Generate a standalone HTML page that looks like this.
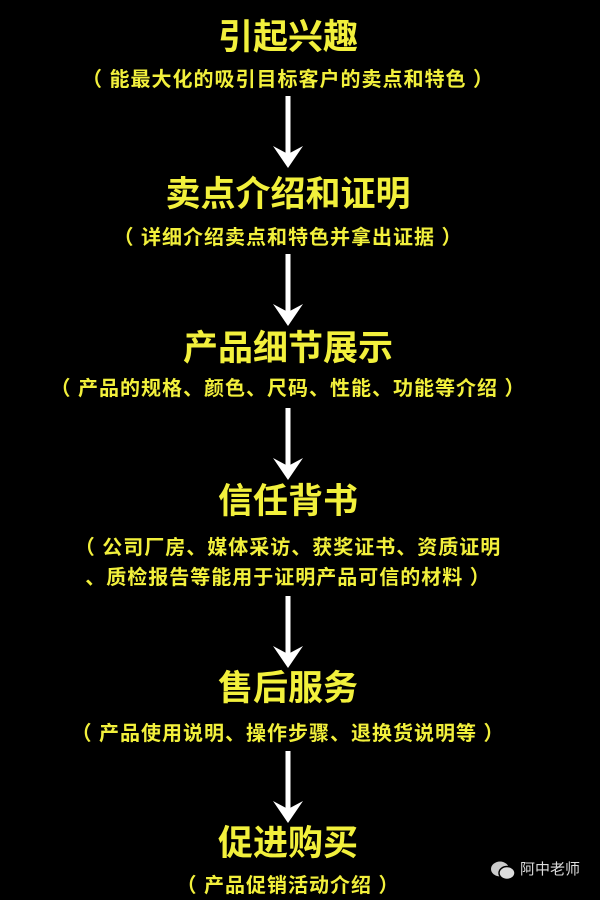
<!DOCTYPE html>
<html><head><meta charset="utf-8"><style>
html,body{margin:0;padding:0;background:#000;width:600px;height:900px;overflow:hidden;position:relative}
.t,.s{position:absolute;left:0;width:576px;text-align:center;color:#f2f03c;font-family:"Liberation Sans","Noto Sans CJK SC",sans-serif;font-weight:700;white-space:nowrap}
.t{font-size:35px;height:44px;line-height:44px}
.s{font-size:20px;height:28px;line-height:28px;letter-spacing:1px}
.a{position:absolute;left:273px;width:30px}
.w{position:absolute;left:490px;top:860px;color:#ddd;font-family:"Liberation Sans","Noto Sans CJK SC",sans-serif;font-size:15px;line-height:20px}
</style></head><body>
<div class="t" style="top:16px">引起兴趣</div>
<div class="s" style="top:66px">（ 能最大化的吸引目标客户的卖点和特色 ）</div>
<svg class="a" style="top:96px" height="72" viewBox="0 0 30 72"><rect x="12.5" y="0" width="5" height="58" fill="#fff"/><path d="M0 50 L15 72 L30 50 L15 58 Z" fill="#fff"/></svg>
<div class="t" style="top:173px">卖点介绍和证明</div>
<div class="s" style="top:224px">（ 详细介绍卖点和特色并拿出证据 ）</div>
<svg class="a" style="top:254px" height="72" viewBox="0 0 30 72"><rect x="12.5" y="0" width="5" height="58" fill="#fff"/><path d="M0 50 L15 72 L30 50 L15 58 Z" fill="#fff"/></svg>
<div class="t" style="top:327px">产品细节展示</div>
<div class="s" style="top:375px">（ 产品的规格、颜色、尺码、性能、功能等介绍 ）</div>
<svg class="a" style="top:408px" height="72" viewBox="0 0 30 72"><rect x="12.5" y="0" width="5" height="58" fill="#fff"/><path d="M0 50 L15 72 L30 50 L15 58 Z" fill="#fff"/></svg>
<div class="t" style="top:480px">信任背书</div>
<div class="s" style="top:534px">（ 公司厂房、媒体采访、获奖证书、资质证明</div>
<div class="s" style="top:564px">、质检报告等能用于证明产品可信的材料 ）</div>
<svg class="a" style="top:596px" height="72" viewBox="0 0 30 72"><rect x="12.5" y="0" width="5" height="58" fill="#fff"/><path d="M0 50 L15 72 L30 50 L15 58 Z" fill="#fff"/></svg>
<div class="t" style="top:667px">售后服务</div>
<div class="s" style="top:720px">（ 产品使用说明、操作步骤、退换货说明等 ）</div>
<svg class="a" style="top:751px" height="72" viewBox="0 0 30 72"><rect x="12.5" y="0" width="5" height="58" fill="#fff"/><path d="M0 50 L15 72 L30 50 L15 58 Z" fill="#fff"/></svg>
<div class="t" style="top:822px">促进购买</div>
<div class="s" style="top:872px">（ 产品促销活动介绍 ）</div>
<svg style="position:absolute;left:490px;top:860px" width="26" height="22" viewBox="0 0 26 22"><ellipse cx="10" cy="9" rx="9" ry="7.5" fill="#ccc"/><ellipse cx="17" cy="13" rx="8" ry="6.5" fill="#ddd" stroke="#000" stroke-width="1.5"/></svg>
<div class="w" style="left:520px">阿中老师</div>
</body></html>
